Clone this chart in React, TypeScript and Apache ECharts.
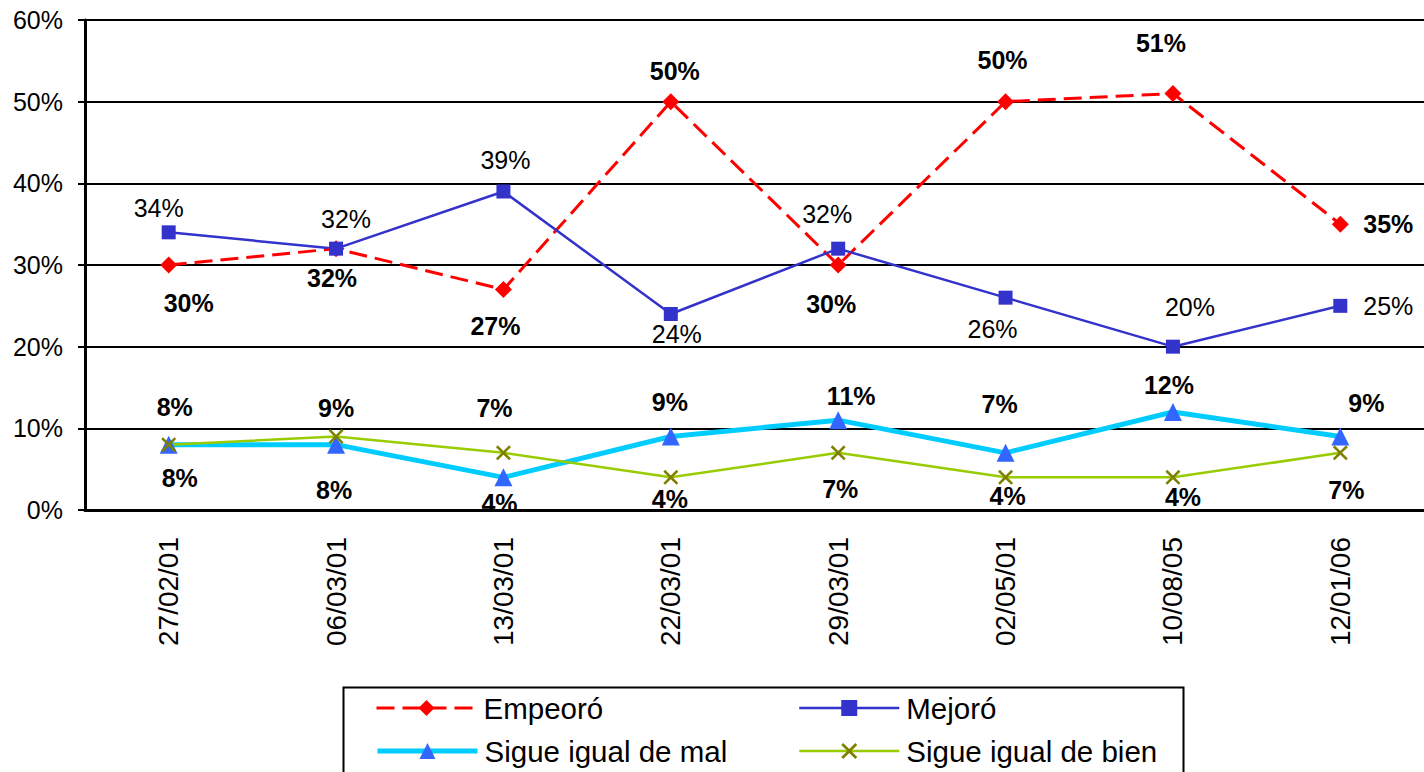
import React, { useEffect, useRef } from "react";
import * as echarts from "echarts";

const categories = ["27/02/01", "06/03/01", "13/03/01", "22/03/01", "29/03/01", "02/05/01", "10/08/05", "12/01/06"];
const seriesNames = ["Empeoró", "Mejoró", "Sigue igual de mal", "Sigue igual de bien"];
const empeoro = [30, 32, 27, 50, 30, 50, 51, 35];
const mejoro = [34, 32, 39, 24, 32, 26, 20, 25];
const igualMal = [8, 8, 4, 9, 11, 7, 12, 9];
const igualBien = [8, 9, 7, 4, 7, 4, 4, 7];

// label placement offsets (styling only)
const offEmpeoro = [[20, 38], [-4, 29], [-8, 36], [4, -31], [-7, 39], [-3, -42], [-12, -51], [48, 0]];
const offMejoro = [[-10, -24], [10, -30], [2, -32], [6, 20], [-11, -35], [-13, 31], [17, -40], [48, 0]];
const offMal = [[11, 33], [-2, 45], [-4, 26], [-1, -35], [13, -24], [-6, -49], [-4, -27], [26, -34]];
const offBien = [[6, -38], [0, -29], [-9, -45], [-1, 22], [2, 36], [2, 19], [10, 20], [6, 37]];

const FONT = "'Liberation Sans', Arial, sans-serif";
const X_PATH = "path://M0,1.2L1.2,0L5,3.8L8.8,0L10,1.2L6.2,5L10,8.8L8.8,10L5,6.2L1.2,10L0,8.8L3.8,5Z";

function mkData(vals: number[], offs: number[][], bold: boolean) {
  return vals.map((v, i) => ({
    value: v,
    label: {
      show: true,
      position: "inside",
      offset: offs[i],
      formatter: "{c}%",
      color: "#000",
      fontSize: 25,
      fontFamily: FONT,
      fontWeight: bold ? "bold" : "normal",
      textBorderWidth: 0,
    },
  }));
}

export default function App() {
  const ref = useRef<HTMLDivElement>(null);
  useEffect(() => {
    if (!ref.current) return;
    const chart = echarts.init(ref.current, null, { renderer: "svg" });
    const legendBase = {
      itemWidth: 100,
      itemHeight: 20,
      padding: 0,
      textStyle: { fontSize: 29.5, fontFamily: FONT, color: "#000", padding: [0, 0, 0, 2], lineHeight: 34 },
      selectedMode: false,
    };
    chart.setOption({
      animation: false,
      backgroundColor: "#fff",
      grid: { left: 85, top: 20, width: 1352, height: 490, containLabel: false },
      xAxis: {
        type: "category",
        data: categories,
        boundaryGap: true,
        axisLine: { lineStyle: { color: "#000", width: 3 } },
        axisTick: { show: false },
        axisLabel: { rotate: 90, margin: 27, fontSize: 28, fontFamily: FONT, color: "#000" },
      },
      yAxis: {
        type: "value",
        min: 0,
        max: 60,
        interval: 10,
        axisLine: { show: true, lineStyle: { color: "#000", width: 3 } },
        axisTick: { show: true, length: 7, lineStyle: { color: "#000", width: 2 } },
        axisLabel: { formatter: "{value}%", fontSize: 25, fontFamily: FONT, color: "#000", margin: 22 },
        splitLine: { show: true, lineStyle: { color: "#000", width: 2 } },
      },
      legend: [
        { ...legendBase, data: [seriesNames[0]], left: 375, top: 691, lineStyle: { width: 3, type: [18, 8] } },
        { ...legendBase, data: [seriesNames[1]], left: 798, top: 691, lineStyle: { width: 2.5 } },
        { ...legendBase, data: [seriesNames[2]], left: 375, top: 734, lineStyle: { width: 5 } },
        { ...legendBase, data: [seriesNames[3]], left: 798, top: 734, lineStyle: { width: 2.5 } },
      ],
      graphic: [
        {
          type: "rect",
          left: 341,
          top: 685,
          shape: { width: 840, height: 120 },
          style: { fill: "none", stroke: "#000", lineWidth: 2 },
          z: -1,
        },
      ],
      series: [
        {
          name: seriesNames[0],
          type: "line",
          data: mkData(empeoro, offEmpeoro, true),
          symbol: "diamond",
          symbolSize: 17,
          itemStyle: { color: "#FF0000" },
          lineStyle: { color: "#FF0000", width: 3, type: [18, 8] },
        },
        {
          name: seriesNames[1],
          type: "line",
          data: mkData(mejoro, offMejoro, false),
          symbol: "rect",
          symbolSize: 14,
          itemStyle: { color: "#3333CC" },
          lineStyle: { color: "#3333CC", width: 2.5 },
        },
        {
          name: seriesNames[2],
          type: "line",
          data: mkData(igualMal, offMal, true),
          symbol: "triangle",
          symbolSize: 18,
          itemStyle: { color: "#3366FF" },
          lineStyle: { color: "#00CCFF", width: 5 },
        },
        {
          name: seriesNames[3],
          type: "line",
          data: mkData(igualBien, offBien, true),
          symbol: X_PATH,
          symbolSize: 15,
          itemStyle: { color: "#808000" },
          lineStyle: { color: "#99CC00", width: 2.5 },
        },
      ],
    });
    return () => chart.dispose();
  }, []);
  return (
    <div
      ref={ref}
      style={{ position: "fixed", left: 0, top: 0, width: 1424, height: 772, overflow: "hidden" }}
    />
  );
}
